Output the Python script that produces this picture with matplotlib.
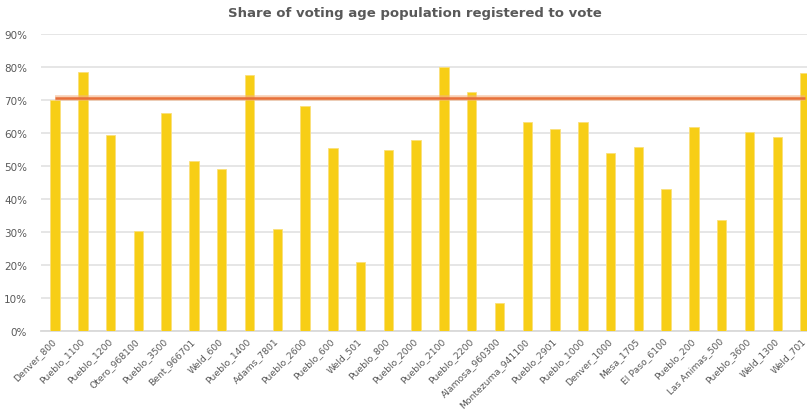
import matplotlib
matplotlib.use("Agg")
import matplotlib.pyplot as plt
from matplotlib.ticker import PercentFormatter, MultipleLocator

categories = ["Denver_800", "Pueblo_1100", "Pueblo_1200", "Otero_968100", "Pueblo_3500",
              "Bent_966701", "Weld_600", "Pueblo_1400", "Adams_7801", "Pueblo_2600",
              "Pueblo_600", "Weld_501", "Pueblo_800", "Pueblo_2000", "Pueblo_2100",
              "Pueblo_2200", "Alamosa_960300", "Montezuma_941100", "Pueblo_2901", "Pueblo_1000",
              "Denver_1000", "Mesa_1705", "El Paso_6100", "Pueblo_200", "Las Animas_500",
              "Pueblo_3600", "Weld_1300", "Weld_701"]
share_registered = [70.0, 78.3, 59.2, 30.3, 66.0,
                    51.4, 49.0, 77.6, 30.8, 68.1,
                    55.5, 20.9, 54.8, 57.8, 79.8,
                    72.3, 8.3, 63.2, 61.0, 63.2,
                    53.8, 55.6, 42.9, 61.7, 33.5,
                    60.2, 58.7, 78.1]
state_average = 70.4

W, H = 807, 410
fig = plt.figure(figsize=(W / 100, H / 100), dpi=100)
n = len(categories)
spacing = (805 - 55) / (n - 1)
left_px = 55 - spacing / 2
right_px = 805 + spacing / 2
top_px, bottom_px = 34.7, 331.7
ax = fig.add_axes([left_px / W, 1 - bottom_px / H, (right_px - left_px) / W, (bottom_px - top_px) / H])

x = list(range(n))
ax.bar(x, share_registered, width=0.34, color="#F7CE16", edgecolor="#FBE07A", linewidth=0.6, zorder=3)
ax.plot(x, [state_average] * n, color="#F4B183", linewidth=4.0, alpha=0.6, zorder=4, solid_capstyle="butt")
ax.plot(x, [state_average] * n, color="#E8703A", linewidth=1.8, zorder=5, solid_capstyle="butt")

ax.set_xlim(-0.5, n - 0.5)
ax.set_ylim(0, 90)
ax.yaxis.set_major_locator(MultipleLocator(10))
ax.yaxis.set_major_formatter(PercentFormatter(decimals=0))
ax.grid(axis="y", color="#E4E4E4", linewidth=1.3, zorder=0)
ax.set_axisbelow(True)
for s in ["top", "right", "left"]:
    ax.spines[s].set_visible(False)
ax.spines["bottom"].set_color("#D9D9D9")
ax.spines["bottom"].set_linewidth(1.3)

ax.set_xticks(x)
ax.set_xticklabels(categories, rotation=45, ha="right", va="center", rotation_mode="anchor",
                   fontsize=6.7, color="#595959")
ax.tick_params(axis="x", length=0, pad=6)
ax.tick_params(axis="y", length=0, pad=10, labelsize=7.5, labelcolor="#595959")

fig.text(415 / W, 1 - 14 / H, "Share of voting age population registered to vote",
         ha="center", va="center", fontsize=9.5, fontweight="bold", color="#595959")

fig.savefig("out.png", dpi=100)
